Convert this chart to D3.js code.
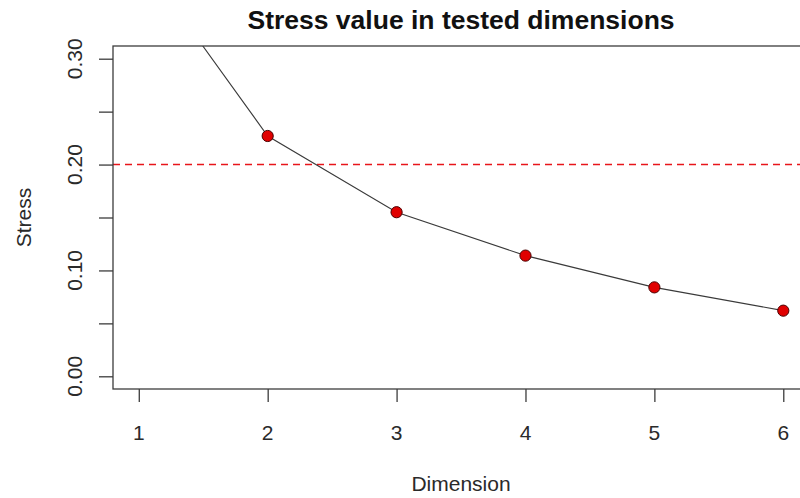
<!DOCTYPE html>
<html>
<head>
<meta charset="utf-8">
<script src="https://cdn.jsdelivr.net/npm/d3@7"></script>
<style>
  html, body { margin: 0; padding: 0; background: #fff; }
  svg { display: block; font-family: "Liberation Sans", Arial, sans-serif; }
</style>
</head>
<body>
<svg id="chart" width="800" height="498"></svg>
<script>
// Stress of the ordination for each tested number of dimensions
const dimensions = [1, 2, 3, 4, 5, 6];
const stress = [0.396, 0.227, 0.155, 0.114, 0.084, 0.062];
const yTicks = [0.00, 0.05, 0.10, 0.15, 0.20, 0.25, 0.30];
const yLabelTicks = [0.00, 0.10, 0.20, 0.30];
const threshold = 0.20;

const svg = d3.select("#chart");
const labelSize = "21px";

// plot region (right edge runs past the canvas)
const plotLeft = 113, plotTop = 46, plotBottom = 389;
const x = d3.scaleLinear().domain([0.8, 6.2]).range([plotLeft, plotLeft + 5.4 * 128.9]);
const y = d3.scaleLinear().domain([-0.012, 0.312]).range([plotBottom, plotTop]);
const plotRight = x(6.2);

svg.append("defs").append("clipPath").attr("id", "plotclip")
  .append("rect").attr("x", plotLeft).attr("y", plotTop)
  .attr("width", plotRight - plotLeft).attr("height", plotBottom - plotTop);

const plot = svg.append("g").attr("clip-path", "url(#plotclip)");

// reference line at stress = 0.2
plot.append("line")
  .attr("x1", plotLeft).attr("x2", plotRight)
  .attr("y1", y(threshold)).attr("y2", y(threshold))
  .attr("stroke", "#e8151b").attr("stroke-width", 1.4)
  .attr("stroke-dasharray", "7,5");

const pts = dimensions.map((d, i) => [d, stress[i]]);
plot.append("path")
  .datum(pts)
  .attr("fill", "none")
  .attr("stroke", "#3a3a3a")
  .attr("stroke-width", 1.1)
  .attr("d", d3.line().x(d => x(d[0])).y(d => y(d[1])));

plot.selectAll("circle").data(pts).enter().append("circle")
  .attr("cx", d => x(d[0])).attr("cy", d => y(d[1]))
  .attr("r", 5.6)
  .attr("fill", "#e00000")
  .attr("stroke", "#4a0000").attr("stroke-width", 1);

// frame
svg.append("rect")
  .attr("x", plotLeft).attr("y", plotTop)
  .attr("width", plotRight - plotLeft).attr("height", plotBottom - plotTop)
  .attr("fill", "none").attr("stroke", "#3c3c3c").attr("stroke-width", 1.3);

// x axis
const xAxis = d3.axisBottom(x).tickValues(dimensions).tickSize(13).tickFormat("");
const gx = svg.append("g").attr("transform", `translate(0,${plotBottom})`).call(xAxis);
gx.select(".domain").remove();
gx.selectAll(".tick line").attr("stroke", "#3c3c3c").attr("stroke-width", 1.3);

svg.append("g").selectAll("text").data(dimensions).enter().append("text")
  .attr("x", d => x(d)).attr("y", 440)
  .attr("text-anchor", "middle").attr("fill", "#2a2a2a")
  .style("font-size", labelSize)
  .text(d => d3.format("d")(d));

// y axis
const yAxis = d3.axisLeft(y).tickValues(yTicks).tickSize(14).tickFormat("");
const gy = svg.append("g").attr("transform", `translate(${plotLeft},0)`).call(yAxis);
gy.select(".domain").remove();
gy.selectAll(".tick line").attr("stroke", "#3c3c3c").attr("stroke-width", 1.3);

svg.append("g").selectAll("text").data(yLabelTicks).enter().append("text")
  .attr("transform", d => `translate(82,${y(d)}) rotate(-90)`)
  .attr("text-anchor", "middle")
  .attr("fill", "#2a2a2a")
  .style("font-size", labelSize)
  .text(d => d3.format(".2f")(d));

// axis titles
svg.append("text")
  .attr("transform", `translate(31,${(plotTop + plotBottom) / 2}) rotate(-90)`)
  .attr("text-anchor", "middle").attr("fill", "#2a2a2a")
  .style("font-size", labelSize)
  .text("Stress");

svg.append("text")
  .attr("x", (plotLeft + plotRight) / 2).attr("y", 491)
  .attr("text-anchor", "middle").attr("fill", "#2a2a2a")
  .style("font-size", labelSize)
  .text("Dimension");

// title
svg.append("text")
  .attr("x", (plotLeft + plotRight) / 2).attr("y", 29)
  .attr("text-anchor", "middle").attr("fill", "#111")
  .style("font-size", "26.5px").style("font-weight", "bold")
  .text("Stress value in tested dimensions");
</script>
</body>
</html>
